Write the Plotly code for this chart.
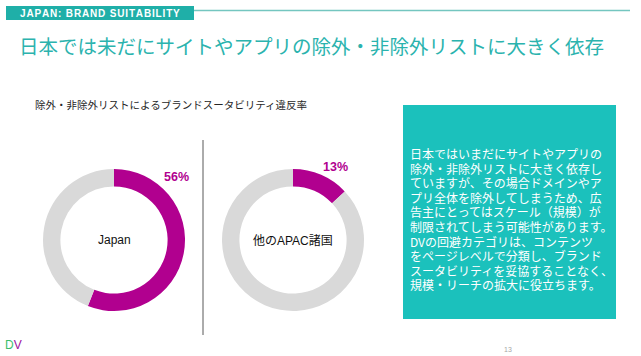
import plotly.graph_objects as go

W, H = 641, 356

# ---- data ----
header_text = "JAPAN: BRAND SUITABILITY"
title_text = "日本では未だにサイトやアプリの除外・非除外リストに大きく依存"
subtitle_text = "除外・非除外リストによるブランドスータビリティ違反率"
regions = ["Japan", "他のAPAC諸国"]
violation_pct = [56, 13]
box_lines = [
    "日本ではいまだにサイトやアプリの",
    "除外・非除外リストに大きく依存し",
    "ていますが、その場合ドメインやア",
    "プリ全体を除外してしまうため、広",
    "告主にとってはスケール（規模）が",
    "制限されてしまう可能性があります。",
    "DVの回避カテゴリは、コンテンツ",
    "をページレベルで分類し、ブランド",
    "スータビリティを妥協することなく、",
    "規模・リーチの拡大に役立ちます。",
]
page_number = "13"

MAGENTA = "#B1008F"
GREY = "#D9D9D9"
TEAL = "#1BC1BC"
TITLE_TEAL = "#2BB3AE"
JP_FONT = "Liberation Sans, Noto Sans CJK JP"


def px(x):
    return x / W


def py(y):
    return 1 - y / H


fig = go.Figure()

# donuts
centers = [(114, 240), (293, 240)]
R = 71
for (cx, cy), name, pct in zip(centers, regions, violation_pct):
    fig.add_trace(go.Pie(
        values=[pct, 100 - pct],
        labels=["違反", "その他"],
        marker=dict(colors=[MAGENTA, GREY], line=dict(width=0)),
        hole=0.755,
        sort=False,
        direction="clockwise",
        rotation=0,
        textinfo="none",
        hoverinfo="skip",
        showlegend=False,
        domain=dict(x=[px(cx - R), px(cx + R)], y=[py(cy + R), py(cy - R)]),
    ))

shapes = []
annotations = []

# header box + line
shapes.append(dict(type="rect", xref="paper", yref="paper",
                   x0=px(6), x1=px(194), y0=py(20), y1=py(6),
                   fillcolor="#1FAFA8", line=dict(width=0), layer="below"))
shapes.append(dict(type="line", xref="paper", yref="paper",
                   x0=px(194), x1=px(630), y0=py(10.5), y1=py(10.5),
                   line=dict(color="#74C6C0", width=1.5)))
annotations.append(dict(text="<b>" + "\u200a".join(header_text) + "</b>",
                        x=px(100), y=py(13), xref="paper", yref="paper",
                        showarrow=False, xanchor="center", yanchor="middle",
                        font=dict(family="Liberation Sans, Arial", size=10, color="white")))

# title
annotations.append(dict(text=title_text, x=px(311), y=py(45), xref="paper", yref="paper",
                        showarrow=False, xanchor="center", yanchor="middle",
                        font=dict(family="Noto Sans CJK JP", size=19.5, color=TITLE_TEAL)))

# subtitle
annotations.append(dict(text=subtitle_text, x=px(33), y=py(105), xref="paper", yref="paper",
                        showarrow=False, xanchor="left", yanchor="middle",
                        font=dict(family=JP_FONT, size=10.5, color="#262626")))

# divider
shapes.append(dict(type="line", xref="paper", yref="paper",
                   x0=px(203), x1=px(203), y0=py(140), y1=py(335),
                   line=dict(color="#595959", width=1)))

# donut centre labels
for (cx, cy), name in zip(centers, regions):
    annotations.append(dict(text=name, x=px(cx), y=py(cy), xref="paper", yref="paper",
                            showarrow=False, xanchor="center", yanchor="middle",
                            font=dict(family=JP_FONT, size=12, color="#111111")))

# percent labels
pct_pos = [(176, 177), (335, 167)]
for (lx, ly), pct in zip(pct_pos, violation_pct):
    annotations.append(dict(text=f"<b>{pct}%</b>", x=px(lx), y=py(ly), xref="paper", yref="paper",
                            showarrow=False, xanchor="center", yanchor="middle",
                            font=dict(family="Liberation Sans, Arial", size=12.5, color=MAGENTA)))

# text box
shapes.append(dict(type="rect", xref="paper", yref="paper",
                   x0=px(403), x1=px(616), y0=py(319), y1=py(105),
                   fillcolor=TEAL, line=dict(width=0), layer="below"))
y0_line = 153
dy = 14.6
for i, line in enumerate(box_lines):
    annotations.append(dict(text=line, x=px(409), y=py(y0_line + i * dy), xref="paper", yref="paper",
                            showarrow=False, xanchor="left", yanchor="middle",
                            height=14, borderpad=0,
                            font=dict(family="Noto Sans CJK JP", size=12, color="white")))

# logo + page number
annotations.append(dict(text="<span style='color:#3DBE6A'>D</span><span style='color:#A0139E'>V</span>",
                        x=px(3), y=py(345), xref="paper", yref="paper",
                        showarrow=False, xanchor="left", yanchor="middle",
                        font=dict(family="Liberation Sans, Arial", size=12)))
annotations.append(dict(text=page_number, x=px(508), y=py(349), xref="paper", yref="paper",
                        showarrow=False, xanchor="center", yanchor="middle",
                        font=dict(family="Liberation Sans, Arial", size=7, color="#A6A6A6")))

fig.update_layout(
    width=W, height=H,
    margin=dict(l=0, r=0, t=0, b=0),
    paper_bgcolor="white", plot_bgcolor="white",
    shapes=shapes, annotations=annotations,
    showlegend=False,
)

fig.write_html("out.html", config={"displayModeBar": False},
               post_script="document.body.style.margin='0';document.body.style.overflow='hidden';")
